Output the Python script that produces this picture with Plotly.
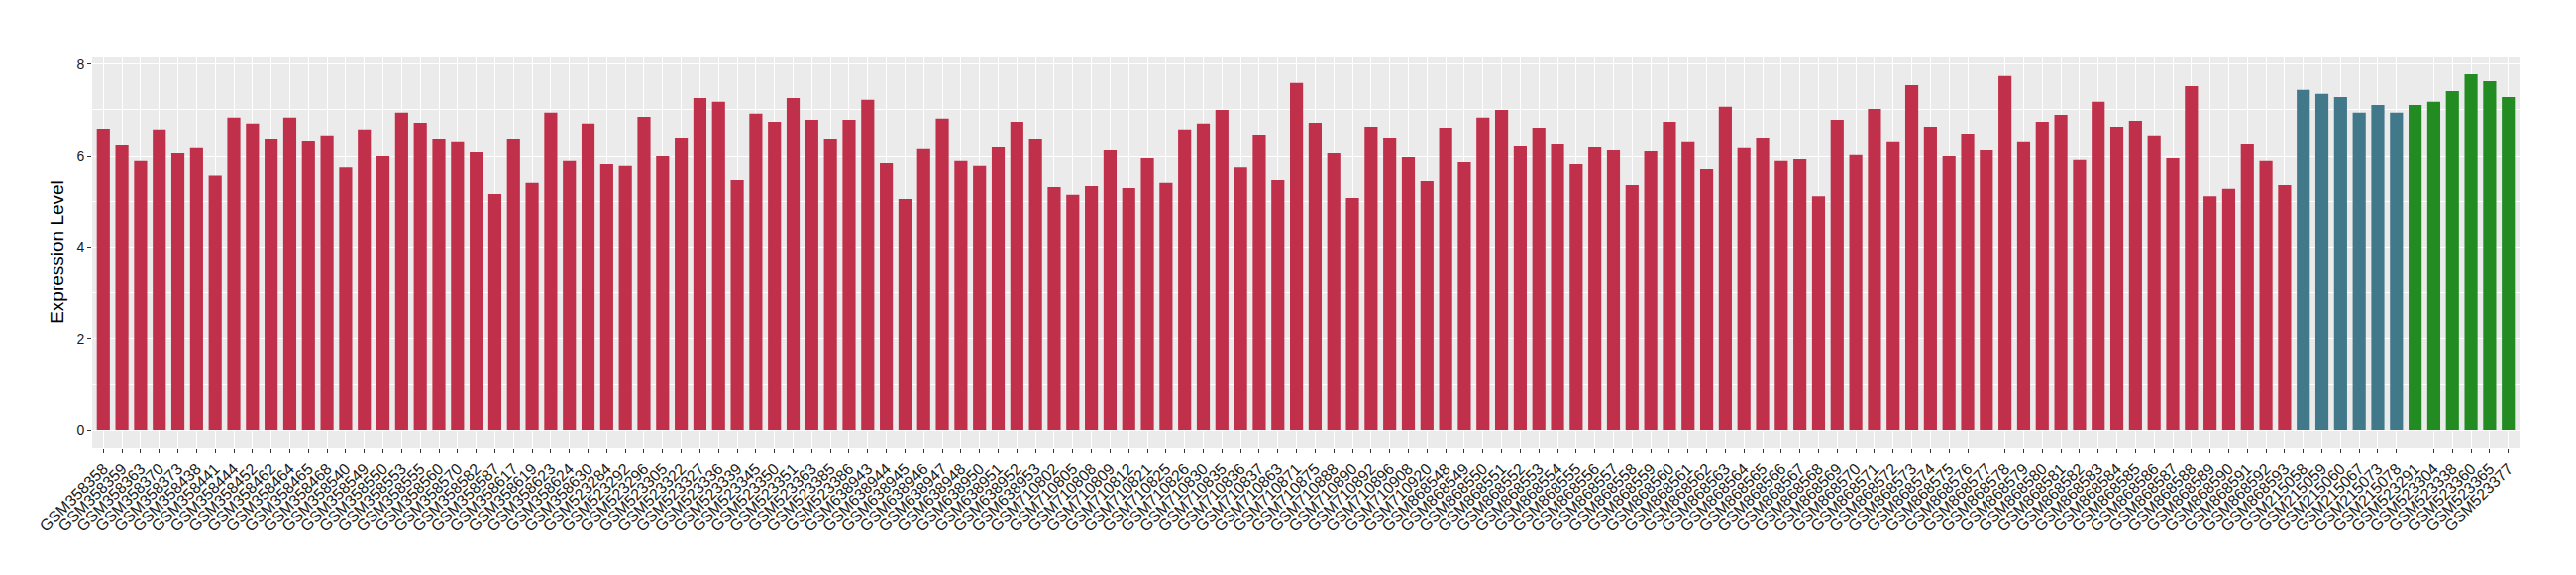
import plotly.graph_objects as go

samples = [
    "GSM358358", "GSM358359", "GSM358363", "GSM358370", "GSM358373", "GSM358438", "GSM358441", "GSM358444",
    "GSM358452", "GSM358462", "GSM358464", "GSM358465", "GSM358468", "GSM358540", "GSM358549", "GSM358550",
    "GSM358553", "GSM358555", "GSM358560", "GSM358570", "GSM358582", "GSM358587", "GSM358617", "GSM358619",
    "GSM358623", "GSM358624", "GSM358630", "GSM523284", "GSM523292", "GSM523296", "GSM523305", "GSM523322",
    "GSM523327", "GSM523336", "GSM523339", "GSM523345", "GSM523350", "GSM523351", "GSM523363", "GSM523385",
    "GSM523386", "GSM638943", "GSM638944", "GSM638945", "GSM638946", "GSM638947", "GSM638948", "GSM638950",
    "GSM638951", "GSM638952", "GSM638953", "GSM710802", "GSM710805", "GSM710808", "GSM710809", "GSM710812",
    "GSM710821", "GSM710825", "GSM710826", "GSM710830", "GSM710835", "GSM710836", "GSM710837", "GSM710863",
    "GSM710871", "GSM710875", "GSM710888", "GSM710890", "GSM710892", "GSM710896", "GSM710908", "GSM710920",
    "GSM868548", "GSM868549", "GSM868550", "GSM868551", "GSM868552", "GSM868553", "GSM868554", "GSM868555",
    "GSM868556", "GSM868557", "GSM868558", "GSM868559", "GSM868560", "GSM868561", "GSM868562", "GSM868563",
    "GSM868564", "GSM868565", "GSM868566", "GSM868567", "GSM868568", "GSM868569", "GSM868570", "GSM868571",
    "GSM868572", "GSM868573", "GSM868574", "GSM868575", "GSM868576", "GSM868577", "GSM868578", "GSM868579",
    "GSM868580", "GSM868581", "GSM868582", "GSM868583", "GSM868584", "GSM868585", "GSM868586", "GSM868587",
    "GSM868588", "GSM868589", "GSM868590", "GSM868591", "GSM868592", "GSM868593",
    "GSM215058", "GSM215059", "GSM215060", "GSM215067", "GSM215073", "GSM215078",
    "GSM523291", "GSM523304", "GSM523338", "GSM523360", "GSM523365", "GSM523377",
]

values = [
    6.59, 6.24, 5.90, 6.57, 6.07, 6.18, 5.56, 6.83,
    6.70, 6.37, 6.83, 6.33, 6.44, 5.76, 6.57, 6.00,
    6.94, 6.72, 6.37, 6.31, 6.09, 5.16, 6.37, 5.40,
    6.94, 5.90, 6.70, 5.83, 5.79, 6.85, 6.00, 6.39,
    7.26, 7.18, 5.46, 6.92, 6.74, 7.26, 6.78, 6.37,
    6.78, 7.22, 5.85, 5.05, 6.16, 6.81, 5.90, 5.79,
    6.20, 6.74, 6.37, 5.31, 5.14, 5.33, 6.13, 5.29,
    5.96, 5.40, 6.57, 6.70, 7.00, 5.76, 6.46, 5.46,
    7.59, 6.72, 6.07, 5.07, 6.63, 6.39, 5.98, 5.44,
    6.61, 5.87, 6.83, 7.00, 6.22, 6.61, 6.26, 5.83,
    6.20, 6.13, 5.35, 6.11, 6.74, 6.31, 5.72, 7.07,
    6.18, 6.39, 5.90, 5.94, 5.11, 6.78, 6.03, 7.02,
    6.31, 7.54, 6.63, 6.00, 6.48, 6.13, 7.74, 6.31,
    6.74, 6.89, 5.92, 7.18, 6.63, 6.76, 6.44, 5.96,
    7.52, 5.11, 5.27, 6.26, 5.90, 5.35,
    7.44, 7.35, 7.28, 6.94, 7.11, 6.94,
    7.11, 7.18, 7.41, 7.78, 7.63, 7.28,
]

groups = ["A"] * 118 + ["B"] * 6 + ["C"] * 6
group_colors = {"A": "#C1304A", "B": "#41788A", "C": "#228B22"}

fig = go.Figure()
fig.add_trace(go.Bar(
    x=samples,
    y=values,
    marker=dict(color=[group_colors[g] for g in groups], line=dict(width=0)),
    showlegend=False,
))

font_family = "Liberation Sans, Arial, sans-serif"
ymax = max(values)
pad = 0.05 * ymax

fig.update_layout(
    width=2600,
    height=580,
    margin=dict(l=93, r=57, t=57, b=128, autoexpand=False),
    paper_bgcolor="white",
    plot_bgcolor="#EBEBEB",
    bargap=0.3,
    font=dict(family=font_family, color="#1a1a1a"),
)

fig.update_xaxes(
    type="category",
    tickmode="array",
    tickvals=samples,
    ticktext=samples,
    tickangle=-45,
    tickfont=dict(size=16, color="#1a1a1a", family=font_family),
    range=[-0.6, len(samples) - 0.4],
    showgrid=True,
    gridcolor="white",
    gridwidth=1.1,
    ticks="outside",
    ticklen=4,
    tickcolor="#333333",
    tickwidth=1,
    showline=False,
    zeroline=False,
    automargin=False,
)

fig.update_yaxes(
    range=[-pad, ymax + pad],
    tickmode="array",
    tickvals=[0, 2, 4, 6, 8],
    ticktext=["0", "2", "4", "6", "8"],
    tickfont=dict(size=14, color="#1a1a1a", family=font_family),
    showgrid=True,
    gridcolor="white",
    gridwidth=1.1,
    minor=dict(tickvals=[1, 3, 5, 7], showgrid=True, gridcolor="white", gridwidth=0.5, ticks=""),
    ticks="outside",
    ticklen=4,
    tickcolor="#333333",
    tickwidth=1,
    zeroline=False,
    showline=False,
    title=dict(text="Expression Level", font=dict(size=19, color="black", family=font_family), standoff=7),
    automargin=False,
)

fig.write_html(
    "out.html",
    config={"displayModeBar": False},
    post_script="document.body.style.margin='0';document.body.style.overflow='hidden';",
)
